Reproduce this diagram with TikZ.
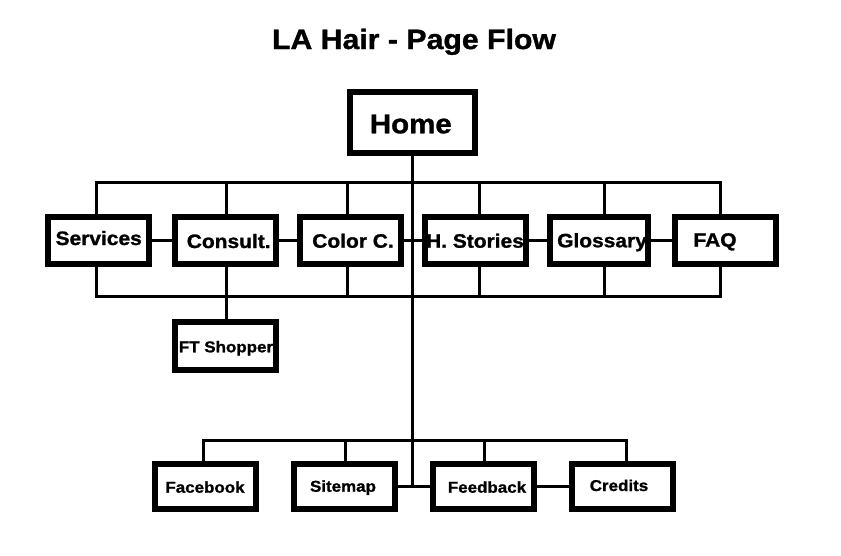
\documentclass[tikz,border=0pt]{standalone}
\usepackage{fontspec}
\setmainfont{Liberation Sans}[FakeStretch=1.08, BoldFeatures={FakeBold=1.2}]
\usetikzlibrary{backgrounds}
\begin{document}
\begin{tikzpicture}[x=1pt,y=-1pt,
  box/.style={draw=black, line width=6pt, minimum width=101pt, minimum height=47pt, inner sep=0pt, fill=white},
  wire/.style={draw=black, line width=3pt},
  lbl/.style={anchor=base, inner sep=0pt, font=\bfseries\fontsize{19.4}{20}\selectfont},
  slbl/.style={anchor=base, inner sep=0pt, font=\bfseries\fontsize{15.7}{16}\selectfont}]
\useasboundingbox (0,0) rectangle (841,555);

% boxes
\node[box, minimum width=125pt, minimum height=60.7pt] (home) at (412,122.7) {};
\node[box] (services) at (98.7,240) {};
\node[box] (consult)  at (225,240) {};
\node[box] (colorc)   at (350.8,240) {};
\node[box] (hstories) at (475.5,240) {};
\node[box, minimum width=98pt] (glossary) at (599.2,240) {};
\node[box] (faq)      at (725.5,240) {};
\node[box, minimum height=47.7pt] (ftshopper) at (225,345.9) {};
\node[box, minimum height=45.5pt] (facebook) at (205,486.5) {};
\node[box, minimum height=45.5pt] (sitemap)  at (344.2,486.5) {};
\node[box, minimum height=45.5pt] (feedback) at (483.7,486.5) {};
\node[box, minimum height=45.5pt] (credits)  at (622.2,486.5) {};

% bus coordinates
\coordinate (t1) at (96.7,182);  \coordinate (t2) at (226.7,182);
\coordinate (t3) at (347.7,182); \coordinate (t4) at (479,182);
\coordinate (t5) at (604.3,182); \coordinate (t6) at (720,182);
\coordinate (b1) at (96.7,296.7);  \coordinate (b2) at (226.7,296.7);
\coordinate (b3) at (347.7,296.7); \coordinate (b4) at (479,296.7);
\coordinate (b5) at (604.3,296.7); \coordinate (b6) at (720,296.7);
\coordinate (u1) at (203.3,440.7); \coordinate (u2) at (345.7,440.7);
\coordinate (u3) at (484.3,440.7); \coordinate (u4) at (626.7,440.7);

\begin{scope}[on background layer]
\fill[white] (0,0) rectangle (841,555);
% top bus
\draw[wire] (services.north -| t1) -- (t1) -- (t6) -- (faq.north -| t6);
\draw[wire] (t2) -- (consult.north -| t2);
\draw[wire] (t3) -- (colorc.north -| t3);
\draw[wire] (t4) -- (hstories.north -| t4);
\draw[wire] (t5) -- (glossary.north -| t5);
% bottom bus
\draw[wire] (services.south -| b1) -- (b1) -- (b6) -- (faq.south -| b6);
\draw[wire] (consult.south -| b2) -- (ftshopper.north -| b2);
\draw[wire] (colorc.south -| b3) -- (b3);
\draw[wire] (hstories.south -| b4) -- (b4);
\draw[wire] (glossary.south -| b5) -- (b5);
% side links
\draw[wire] (services.east) -- (consult.west);
\draw[wire] (consult.east) -- (colorc.west);
\draw[wire] (colorc.east) -- (hstories.west);
\draw[wire] (hstories.east) -- (glossary.west);
\draw[wire] (glossary.east) -- (faq.west);
% main trunk
\draw[wire] (home.south) -- (home.south |- sitemap.east);
\draw[wire] (sitemap.east) -- (feedback.west);
\draw[wire] (feedback.east) -- (credits.west);
% lower bus
\draw[wire] (facebook.north -| u1) -- (u1) -- (u4) -- (credits.north -| u4);
\draw[wire] (u2) -- (sitemap.north -| u2);
\draw[wire] (u3) -- (feedback.north -| u3);
\end{scope}

% texts
\node[anchor=base, inner sep=0pt, font=\bfseries\fontsize{28}{30}\selectfont] (title) at (414,49) {LA Hair - Page Flow};
\node[anchor=base, inner sep=0pt, font=\bfseries\fontsize{27.3}{28}\selectfont] (thome) at (410.8,133.3) {Home};
\node[lbl] (tservices) at (98.7,245) {Services};
\node[lbl] (tconsult)  at (228.7,248) {Consult.};
\node[lbl] (tcolorc)   at (353,247.7) {Color C.};
\node[lbl] (thstories) at (475,247.7) {H. Stories};
\node[lbl] (tglossary) at (602,247.3) {Glossary};
\node[lbl] (tfaq)      at (715,246.7) {FAQ};
\node[slbl] (tft)      at (226,352.3) {FT Shopper};
\node[slbl] (tfb)      at (205,492.7) {Facebook};
\node[slbl] (tsm)      at (343,491.7) {Sitemap};
\node[slbl] (tfe)      at (487,492.7) {Feedback};
\node[slbl] (tcr)      at (619,491) {Credits};
\end{tikzpicture}
\end{document}
